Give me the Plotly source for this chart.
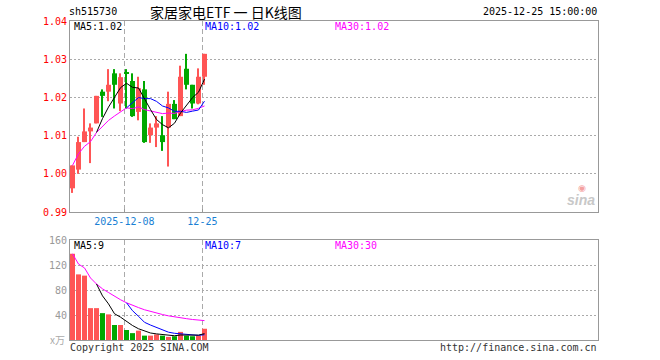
import plotly.graph_objects as go

# ---------------- data ----------------
dates = ["2025-11-25", "2025-11-26", "2025-11-27", "2025-11-28", "2025-12-01",
         "2025-12-02", "2025-12-03", "2025-12-04", "2025-12-05", "2025-12-08",
         "2025-12-09", "2025-12-10", "2025-12-11", "2025-12-12", "2025-12-15",
         "2025-12-16", "2025-12-17", "2025-12-18", "2025-12-19", "2025-12-22",
         "2025-12-23", "2025-12-24", "2025-12-25"]
opens = [0.9962, 1.0011, 1.0083, 1.0111, 1.0132, 1.0215, 1.0215, 1.0263, 1.0184, 1.0264,
         1.0243, 1.0162, 1.0221, 1.0101, 1.0121, 1.0101, 1.0121, 1.0183, 1.0151, 1.0275,
         1.0233, 1.0184, 1.0254]
highs = [1.0022, 1.0097, 1.0171, 1.0132, 1.0204, 1.0221, 1.0274, 1.0274, 1.0263, 1.0274,
         1.0263, 1.0254, 1.0243, 1.0132, 1.0151, 1.0151, 1.0215, 1.0193, 1.0283, 1.0314,
         1.0233, 1.0276, 1.0314]
lows = [0.9950, 1.0000, 1.0083, 1.0028, 1.0132, 1.0149, 1.0190, 1.0171, 1.0164, 1.0171,
        1.0149, 1.0140, 1.0081, 1.0081, 1.0070, 1.0060, 1.0019, 1.0143, 1.0151, 1.0221,
        1.0171, 1.0182, 1.0233]
closes = [1.0022, 1.0083, 1.0111, 1.0121, 1.0204, 1.0204, 1.0233, 1.0233, 1.0253, 1.0262,
          1.0151, 1.0224, 1.0083, 1.0121, 1.0132, 1.0083, 1.0183, 1.0143, 1.0254, 1.0233,
          1.0184, 1.0254, 1.0314]
volumes = [138, 105, 103, 51, 51, 43, 41, 24, 24, 16, 11, 15, 7, 7, 9, 7, 5, 6, 13, 7, 6, 7, 18]

price_ticks = [0.99, 1.00, 1.01, 1.02, 1.03, 1.04]
price_tick_text = ["0.99", "1.00", "1.01", "1.02", "1.03", "1.04"]
vol_ticks = [40, 80, 120, 160]
vol_tick_text = ["40", "80", "120", "160"]
date_tick_labels = {"2025-12-08": "2025-12-08", "2025-12-25": "12-25"}

code = "sh515730"
title = "家居家电ETF 一 日K线图"
stamp = "2025-12-25 15:00:00"
price_ma_text = ["MA5:1.02", "MA10:1.02", "MA30:1.02"]
vol_ma_text = ["MA5:9", "MA10:7", "MA30:30"]

# ---------------- helpers ----------------
RED = "#ff5555"
GREEN = "#00a800"
MONO = "DejaVu Sans Mono"

n = len(dates)
idx = list(range(n))


def moving_avg(vals, k, cumulative=False):
    out = []
    for i in range(len(vals)):
        if i + 1 < k:
            out.append(sum(vals[:i + 1]) / (i + 1) if cumulative else None)
        else:
            out.append(sum(vals[i + 1 - k:i + 1]) / k)
    return out


colors = [RED if c >= o else GREEN for o, c in zip(opens, closes)]
body_base = [min(o, c) for o, c in zip(opens, closes)]
body_h = [max(abs(c - o), 0.00026) for o, c in zip(opens, closes)]
wick_h = [h - l for h, l in zip(highs, lows)]

fig = go.Figure()

# wicks
fig.add_trace(go.Bar(x=idx, base=lows, y=wick_h, width=0.17, marker_color=colors,
                     marker_line_width=0, xaxis="x", yaxis="y", hoverinfo="skip"))
# bodies
fig.add_trace(go.Bar(x=idx, base=body_base, y=body_h, width=0.84, marker_color=colors,
                     marker_line_width=0, xaxis="x", yaxis="y", hoverinfo="skip"))

# price MAs
for k, col, cum in [(30, "#ff00ff", True), (10, "#0000ff", False), (5, "#000000", False)]:
    fig.add_trace(go.Scatter(x=idx, y=moving_avg(closes, k, cum), mode="lines",
                             line=dict(color=col, width=1), xaxis="x", yaxis="y",
                             hoverinfo="skip"))

# volume bars
fig.add_trace(go.Bar(x=idx, y=volumes, width=0.84, marker_color=colors, marker_line_width=0,
                     xaxis="x2", yaxis="y2", hoverinfo="skip"))
for k, col, cum in [(30, "#ff00ff", True), (10, "#0000ff", False), (5, "#000000", False)]:
    fig.add_trace(go.Scatter(x=idx, y=moving_avg(volumes, k, cum), mode="lines",
                             line=dict(color=col, width=1), xaxis="x2", yaxis="y2",
                             hoverinfo="skip"))

# layout geometry (pixels)
L, R, T, B = 70, 598, 21, 340
W, H = R - L, B - T


def px_x(px):
    return (px - L) / W


def px_y(py):
    return (B - py) / H


pitch = 6.0
x_range = [-(2.5 / pitch), (R - L - 2.5) / pitch]
date_idx = [dates.index(d) for d in date_tick_labels]
grid_x = [i - 0.35 for i in date_idx]

common_x = dict(range=x_range, showgrid=True, gridcolor="#aaaaaa", griddash="5px,3px",
                gridwidth=1, zeroline=False, showline=True, mirror=True,
                linecolor="#999999", linewidth=1, tickvals=grid_x,
                ticktext=list(date_tick_labels.values()))
common_y = dict(showgrid=True, gridcolor="#aaaaaa", griddash="2px,2px", gridwidth=1,
                zeroline=False, showline=True, mirror=True, linecolor="#999999",
                linewidth=1, ticks="")

fig.update_layout(
    width=660, height=360,
    margin=dict(l=L, r=660 - R, t=T, b=360 - B),
    paper_bgcolor="white", plot_bgcolor="white",
    showlegend=False, barmode="overlay",
    xaxis=dict(**common_x, anchor="y", ticks="inside", ticklen=3, tickcolor="#999999",
               tickfont=dict(family=MONO, size=10, color="#1a7fd4")),
    yaxis=dict(**common_y, domain=[px_y(212), 1], range=[0.99, 1.04],
               tickvals=price_ticks, ticktext=price_tick_text,
               tickfont=dict(family=MONO, size=10, color="#ff0000")),
    xaxis2=dict(**common_x, anchor="y2", ticks="", showticklabels=False),
    yaxis2=dict(**common_y, domain=[0, px_y(240)], range=[0, 160],
                tickvals=vol_ticks, ticktext=vol_tick_text,
                tickfont=dict(family=MONO, size=10, color="#999999")),
)

ann = []


def add_text(text, px, py, color="#000000", size=10, family=MONO, anchor="left"):
    ann.append(dict(text=text, x=px_x(px), y=px_y(py), xref="paper", yref="paper",
                    xanchor=anchor, yanchor="middle", showarrow=False,
                    font=dict(family=family, size=size, color=color)))


add_text(code, 67, 12)
add_text(title, 148, 12, size=14, family="Noto Sans CJK SC")
add_text(stamp, 599, 12, anchor="right")
ma_cols = ["#000000", "#0000ff", "#ff00ff"]
for t, x0, c in zip(price_ma_text, [72, 203, 333], ma_cols):
    add_text(t, x0, 27, color=c)
for t, x0, c in zip(vol_ma_text, [72, 203, 333], ma_cols):
    add_text(t, x0, 245, color=c)
add_text("x万", 67, 339, color="#aaaaaa", family="Noto Sans CJK SC", anchor="right")
add_text("Copyright 2025 SINA.COM", 68, 348, color="#333333")
add_text("http://finance.sina.com.cn", 599, 348, color="#333333", anchor="right")
add_text("<b><i>sina</i></b>", 597, 200, color="#c8c8c8", size=14,
         family="Arial, Liberation Sans", anchor="right")
add_text("◉", 582, 188, color="#f4a0a0", size=9, family="DejaVu Sans", anchor="center")

fig.update_layout(annotations=ann)

fig.write_html("out.html")
